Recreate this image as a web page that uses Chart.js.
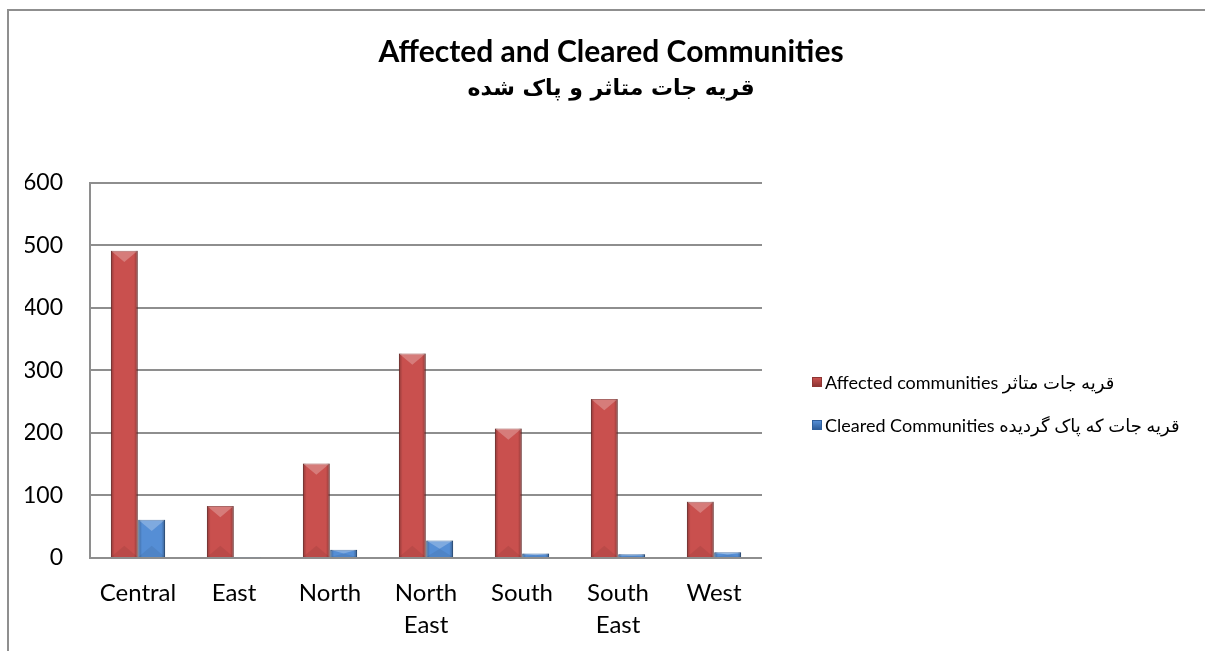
<!DOCTYPE html>
<html>
<head>
<meta charset="utf-8">
<script src="https://cdn.jsdelivr.net/npm/chart.js@4.4.1/dist/chart.umd.min.js"></script>
<style>
  html, body { margin: 0; padding: 0; background: #fff; overflow: hidden; }
  #wrap { position: relative; width: 1205px; height: 651px; }
  #frame { position: absolute; left: 7px; top: 9px; width: 1300px; height: 800px; border: 2px solid #8f8f8f; box-sizing: border-box; }
  #chart { position: absolute; left: 0; top: 0; }
  #legend { position: absolute; left: 812px; top: 371px; font: 18px Lato, "DejaVu Sans", sans-serif; color: #000; }
  #legend .item { display: flex; align-items: center; height: 22px; margin-bottom: 21px; white-space: nowrap; }
  #legend .box { width: 10px; height: 10px; margin-right: 3px; box-sizing: border-box; }
</style>
</head>
<body>
<div id="wrap">
  <div id="frame"></div>
  <canvas id="chart" width="1205" height="651"></canvas>
  <div id="legend"></div>
</div>
<script>
const categories = ["Central", "East", "North", ["North", "East"], "South", ["South", "East"], "West"];
const affected = [491, 83, 151, 327, 207, 254, 90];
const cleared = [61, 1, 13, 28, 7, 6, 9];
const seriesNames = ["Affected communities قریه جات متاثر", "Cleared Communities قریه جات که پاک گردیده"];
const titleText = "Affected and Cleared Communities";
const subtitleText = "قریه جات متاثر و پاک شده";
const yTicks = [0, 100, 200, 300, 400, 500, 600];

const RED = "#c9504e", RED_DARK = "#8e3533";
const BLUE = "#558ed5", BLUE_DARK = "#2f5f9c";
const FONT = 'Lato, "DejaVu Sans", sans-serif';

// bevel look on each bar, using the bar elements laid out by Chart.js
const bevel = {
  id: 'bevel',
  afterDatasetsDraw(chart) {
    const ctx = chart.ctx;
    chart.data.datasets.forEach((ds, di) => {
      chart.getDatasetMeta(di).data.forEach((bar) => {
        const w = bar.width, left = bar.x - w / 2, right = bar.x + w / 2;
        const top = Math.min(bar.y, bar.base), bottom = Math.max(bar.y, bar.base);
        const h = bottom - top;
        if (h < 1) return;
        ctx.save();
        const g = ctx.createLinearGradient(left, 0, right, 0);
        g.addColorStop(0, 'rgba(0,0,0,0.28)');
        g.addColorStop(0.14, 'rgba(0,0,0,0.0)');
        g.addColorStop(0.86, 'rgba(0,0,0,0.0)');
        g.addColorStop(1, 'rgba(0,0,0,0.32)');
        ctx.fillStyle = g;
        ctx.fillRect(left, top, w, h);
        const th = Math.min(w * 0.42, h / 2);
        ctx.beginPath();
        ctx.moveTo(left, top);
        ctx.lineTo(right, top);
        ctx.lineTo(bar.x, top + th);
        ctx.closePath();
        ctx.fillStyle = 'rgba(255,255,255,0.25)';
        ctx.fill();
        ctx.beginPath();
        ctx.moveTo(left, bottom);
        ctx.lineTo(right, bottom);
        ctx.lineTo(bar.x, bottom - th);
        ctx.closePath();
        ctx.fillStyle = 'rgba(0,0,0,0.07)';
        ctx.fill();
        ctx.restore();
      });
    });
  }
};

const CHART = document.getElementById("chart");
let barChart = new Chart(CHART, {
  type: 'bar',
  data: {
    labels: categories,
    datasets: [
      {
        label: seriesNames[0],
        data: affected,
        backgroundColor: RED,
        borderColor: RED_DARK,
        borderWidth: 1,
        categoryPercentage: 0.57,
        barPercentage: 0.98
      },
      {
        label: seriesNames[1],
        data: cleared,
        backgroundColor: BLUE,
        borderColor: BLUE_DARK,
        borderWidth: 1,
        categoryPercentage: 0.57,
        barPercentage: 0.98
      }
    ]
  },
  plugins: [bevel],
  options: {
    responsive: false,
    animation: false,
    devicePixelRatio: 1,
    layout: { padding: { left: 25, right: 8, top: 34, bottom: 0 } },
    plugins: {
      legend: { display: false },
      tooltip: { enabled: false },
      title: {
        display: true,
        text: titleText,
        color: "#000",
        font: { family: FONT, size: 30, weight: 'bold', lineHeight: 1.2 },
        padding: { top: 0, bottom: 3 }
      },
      subtitle: {
        display: true,
        text: subtitleText,
        color: "#000",
        font: { family: '"DejaVu Sans", sans-serif', size: 22, weight: 'bold', lineHeight: 1.3 },
        padding: { top: 2, bottom: 79 }
      }
    },
    scales: {
      x: {
        grid: { display: false },
        border: { display: false },
        ticks: { color: "#000", font: { family: FONT, size: 24, lineHeight: 1.35 }, padding: 11, maxRotation: 0, autoSkip: false },
        afterFit: (scale) => { scale.height = 651 - 558; }
      },
      y: {
        min: 0,
        max: 600,
        afterBuildTicks: (scale) => { scale.ticks = yTicks.map(v => ({ value: v })); },
        grid: { color: "#8e8e8e", lineWidth: 2, drawTicks: false },
        border: { display: true, color: "#8e8e8e", width: 2 },
        ticks: { color: "#000", font: { family: FONT, size: 23 }, padding: 27 },
        afterFit: (scale) => { scale.width = 90 - 25; }
      },
      spacer: {
        type: 'linear',
        position: 'right',
        display: true,
        grid: { display: false },
        border: { display: false },
        ticks: { display: false },
        afterFit: (scale) => { scale.width = 1197 - 762; }
      }
    }
  }
});

// legend built from the chart's datasets
const legendEl = document.getElementById("legend");
barChart.data.datasets.forEach((ds) => {
  const item = document.createElement("div");
  item.className = "item";
  const box = document.createElement("span");
  box.className = "box";
  box.style.background = "linear-gradient(to bottom, " + ds.backgroundColor + " 0%, " + ds.borderColor + " 100%)";
  box.style.border = "1px solid " + ds.borderColor;
  const txt = document.createElement("span");
  txt.textContent = ds.label;
  item.appendChild(box);
  item.appendChild(txt);
  legendEl.appendChild(item);
});
</script>
</body>
</html>
